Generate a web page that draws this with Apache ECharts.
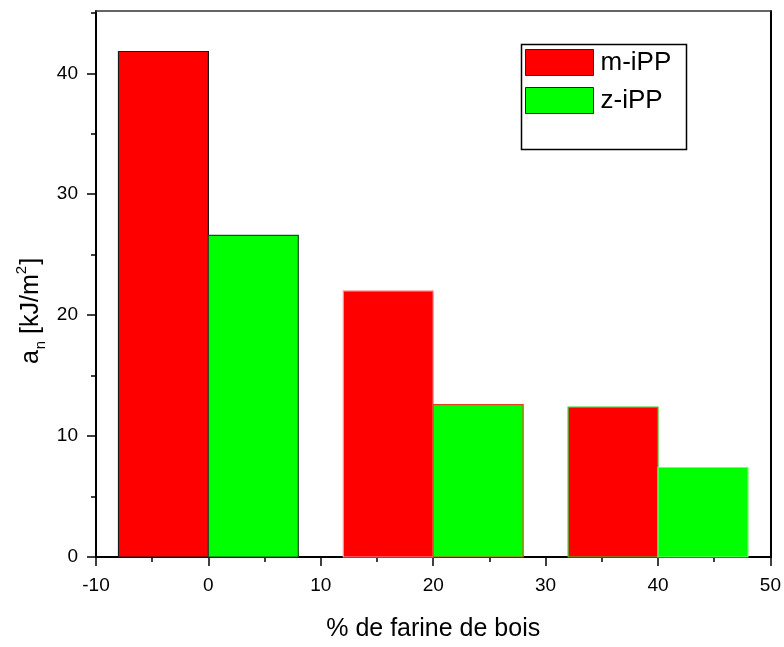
<!DOCTYPE html>
<html>
<head>
<meta charset="utf-8">
<script src="https://cdn.jsdelivr.net/npm/echarts@6/dist/echarts.min.js"></script>
<style>
  html, body { margin: 0; padding: 0; background: #fff; overflow: hidden; }
  #chart { width: 784px; height: 647px; }
</style>
</head>
<body>
<div id="chart"></div>
<script>
// Wood-flour loadings (%) and notched impact strength a_n (kJ/m²)
const loadings = [0, 20, 40];
const mIPP = [41.8, 22.0, 12.4];
const zIPP = [26.6, 12.6, 7.4];

const xMajorTicks = [-10, 0, 10, 20, 30, 40, 50];
const xMinorTicks = [-5, 5, 15, 25, 35, 45];
const yMajorTicks = [0, 10, 20, 30, 40];
const yMinorTicks = [5, 15, 25, 35, 45];

// Edge colours of each bar
const mEdge = ['#1a1a1a', '#ff9b9b', '#33cc33'];
const zEdge = ['#1e4d1e', '#e8401c', '#70ff70'];

const FONT = '"Liberation Sans", Arial, sans-serif';
const SPAN = 8; // bar width in x units
const X_MIN = -10, X_MAX = 50, Y_MIN = 0, Y_MAX = 45.15;

const chart = echarts.init(document.getElementById('chart'));

function barRenderer(fill, edges) {
  return function (params, api) {
    const p0 = api.coord([api.value(0), api.value(2)]);
    const p1 = api.coord([api.value(1), 0]);
    return {
      type: 'rect',
      shape: { x: p0[0], y: p0[1], width: p1[0] - p0[0], height: p1[1] - p0[1] },
      style: { fill: fill, stroke: edges[params.dataIndex], lineWidth: 1.2 }
    };
  };
}

const mData = loadings.map((x, i) => [x - SPAN, x, mIPP[i]]);
const zData = loadings.map((x, i) => [x, x + SPAN, zIPP[i]]);

const baseX = { type: 'value', min: X_MIN, max: X_MAX, splitLine: { show: false } };
const baseY = { type: 'value', min: Y_MIN, max: Y_MAX, splitLine: { show: false } };

chart.setOption({
  animation: false,
  backgroundColor: '#fff',
  grid: { left: 96, right: 11.5, top: 11, bottom: 83.3, containLabel: false },
  xAxis: [
    Object.assign({}, baseX, {
      position: 'bottom',
      axisLine: { onZero: false, lineStyle: { color: '#000', width: 2 } },
      axisTick: { customValues: xMajorTicks, length: 9, lineStyle: { color: '#000', width: 1.5 } },
      axisLabel: { customValues: xMajorTicks, margin: 19, color: '#000', fontSize: 19, fontFamily: FONT },
      name: '% de farine de bois',
      nameLocation: 'middle',
      nameGap: 60,
      nameTextStyle: { color: '#000', fontSize: 25, fontFamily: FONT }
    }),
    Object.assign({}, baseX, {
      position: 'bottom',
      axisLine: { show: false, onZero: false },
      axisTick: { customValues: xMinorTicks, length: 5, lineStyle: { color: '#000', width: 1.5 } },
      axisLabel: { show: false }
    }),
    Object.assign({}, baseX, {
      position: 'top',
      axisLine: { onZero: false, lineStyle: { color: '#333', width: 1.5 } },
      axisTick: { show: false },
      axisLabel: { show: false }
    })
  ],
  yAxis: [
    Object.assign({}, baseY, {
      position: 'left',
      axisLine: { onZero: false, lineStyle: { color: '#000', width: 2 } },
      axisTick: { customValues: yMajorTicks, length: 9, lineStyle: { color: '#000', width: 1.5 } },
      axisLabel: { customValues: yMajorTicks, margin: 18, color: '#000', fontSize: 19, fontFamily: FONT }
    }),
    Object.assign({}, baseY, {
      position: 'left',
      axisLine: { show: false, onZero: false },
      axisTick: { customValues: yMinorTicks, length: 5, lineStyle: { color: '#000', width: 1.5 } },
      axisLabel: { show: false }
    }),
    Object.assign({}, baseY, {
      position: 'right',
      axisLine: { onZero: false, lineStyle: { color: '#000', width: 2 } },
      axisTick: { show: false },
      axisLabel: { show: false }
    })
  ],
  legend: {
    orient: 'vertical',
    left: 520,
    top: 44,
    itemWidth: 68,
    itemHeight: 26,
    itemGap: 11,
    icon: 'rect',
    textStyle: { color: '#000', fontSize: 26, fontFamily: FONT, padding: [0, 0, 0, 2] },
    data: [
      { name: 'm-iPP', itemStyle: { color: '#ff0000', borderColor: '#222', borderWidth: 1 } },
      { name: 'z-iPP', itemStyle: { color: '#00ff00', borderColor: '#222', borderWidth: 1 } }
    ]
  },
  graphic: [
    {
      // legend frame
      type: 'rect',
      left: 519, top: 42,
      shape: { width: 165, height: 105 },
      style: { fill: 'none', stroke: '#000', lineWidth: 1.5 },
      z: 100
    },
    {
      // y-axis title: a_n [kJ/m²]
      type: 'text',
      x: 31, y: 311,
      rotation: Math.PI / 2,
      style: {
        text: '{t|a}{sub|n}{t| [kJ/m}{sup|2}{t|]}',
        align: 'center',
        verticalAlign: 'middle',
        rich: {
          t: { fontSize: 25, fontFamily: FONT, fill: '#000', lineHeight: 34, verticalAlign: 'middle' },
          sub: { fontSize: 15, fontFamily: FONT, fill: '#000', lineHeight: 34, verticalAlign: 'bottom', padding: [0, 0, 0, 1] },
          sup: { fontSize: 15, fontFamily: FONT, fill: '#000', lineHeight: 34, verticalAlign: 'top', padding: [0, 1, 0, 0] }
        }
      }
    }
  ],
  series: [
    {
      name: 'm-iPP', type: 'custom', xAxisIndex: 0, yAxisIndex: 0,
      itemStyle: { color: '#ff0000' },
      encode: { x: [0, 1], y: 2 },
      renderItem: barRenderer('#ff0000', mEdge),
      data: mData
    },
    {
      name: 'z-iPP', type: 'custom', xAxisIndex: 0, yAxisIndex: 0,
      itemStyle: { color: '#00ff00' },
      encode: { x: [0, 1], y: 2 },
      renderItem: barRenderer('#00ff00', zEdge),
      data: zData
    }
  ]
});
</script>
</body>
</html>
